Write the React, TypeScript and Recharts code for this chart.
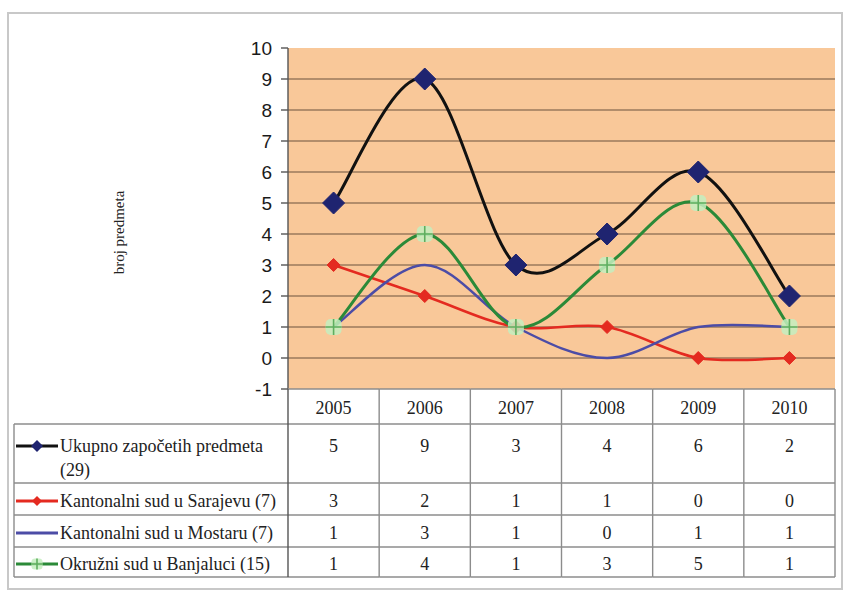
import React from 'react';
import { LineChart, Line, XAxis, YAxis, CartesianGrid, Label } from 'recharts';

const years = ['2005', '2006', '2007', '2008', '2009', '2010'];
const ukupno = [5, 9, 3, 4, 6, 2];
const sarajevo = [3, 2, 1, 1, 0, 0];
const mostar = [1, 3, 1, 0, 1, 1];
const banjaluka = [1, 4, 1, 3, 5, 1];
const yTicks = [-1, 0, 1, 2, 3, 4, 5, 6, 7, 8, 9, 10];
const gridValues = [0, 1, 2, 3, 4, 5, 6, 7, 8, 9];
const seriesNames = [
  ['Ukupno započetih predmeta', '(29)'],
  ['Kantonalni sud u Sarajevu (7)'],
  ['Kantonalni sud u Mostaru (7)'],
  ['Okružni sud u Banjaluci (15)'],
];
const yLabel = 'broj predmeta';

const data = years.map((y, i) => ({
  year: y,
  ukupno: ukupno[i],
  sarajevo: sarajevo[i],
  mostar: mostar[i],
  banjaluka: banjaluka[i],
}));

const W = 851;
const H = 598;
const M = { top: 48, right: 16, bottom: 9, left: 0 };
const Y_AXIS_W = 288;
const X_AXIS_H = 200;
const PLOT_W = W - M.left - M.right - Y_AXIS_W;
const COL_W = PLOT_W / years.length;
const LEGEND_LEFT = 14;

const C_BLACK = '#111111';
const C_NAVY = '#1f2470';
const C_RED = '#e42a20';
const C_BLUE = '#4c4ca6';
const C_GREEN = '#2b8a38';
const C_GRID = '#9a7a5c';
const C_TABLE = '#8c8c8c';
const SERIF = '"Liberation Serif", "Times New Roman", serif';
const SANS = '"Liberation Sans", Arial, sans-serif';

// Excel-like smoothed line (Catmull-Rom through the points)
const excelCurve: any = (context: any) => {
  let pts: number[][] = [];
  return {
    areaStart() {},
    areaEnd() {},
    lineStart() {
      pts = [];
    },
    point(x: number, y: number) {
      pts.push([+x, +y]);
    },
    lineEnd() {
      if (!pts.length) return;
      context.moveTo(pts[0][0], pts[0][1]);
      for (let i = 0; i < pts.length - 1; i++) {
        const p0 = pts[i - 1] || pts[i];
        const p1 = pts[i];
        const p2 = pts[i + 1];
        const p3 = pts[i + 2] || p2;
        context.bezierCurveTo(
          p1[0] + (p2[0] - p0[0]) / 6,
          p1[1] + (p2[1] - p0[1]) / 6,
          p2[0] - (p3[0] - p1[0]) / 6,
          p2[1] - (p3[1] - p1[1]) / 6,
          p2[0],
          p2[1]
        );
      }
    },
  };
};

const diamondPath = (cx: number, cy: number, r: number) =>
  `M${cx},${cy - r}L${cx + r},${cy}L${cx},${cy + r}L${cx - r},${cy}Z`;

const NavyMarker = ({ cx, cy }: { cx: number; cy: number }) => (
  <path d={diamondPath(cx, cy, 11)} fill={C_NAVY} stroke={C_NAVY} strokeWidth={1} />
);
const RedMarker = ({ cx, cy }: { cx: number; cy: number }) => (
  <path d={diamondPath(cx, cy, 6.5)} fill={C_RED} stroke={C_RED} strokeWidth={1} />
);
const GreenMarker = ({ cx, cy, s = 1 }: { cx: number; cy: number; s?: number }) => (
  <g>
    <rect x={cx - 8 * s} y={cy - 8 * s} width={16 * s} height={16 * s} rx={5 * s} fill="#c4eec0" opacity={0.85} />
    <path d={`M${cx - 8 * s},${cy}H${cx + 8 * s}M${cx},${cy - 8 * s}V${cy + 8 * s}`} stroke="#5fae5f" strokeWidth={1.6} />
  </g>
);

const dotNavy = (p: any) => <NavyMarker key={`n-${p.index}`} cx={p.cx} cy={p.cy} />;
const dotRed = (p: any) => <RedMarker key={`r-${p.index}`} cx={p.cx} cy={p.cy} />;
const dotGreen = (p: any) => <GreenMarker key={`g-${p.index}`} cx={p.cx} cy={p.cy} />;

// table row boundaries relative to plot bottom
const ROW_LINES = [0, 35, 94, 126, 158, 188];
const YEAR_Y = 19;
const ROW_TEXT_Y = [57, 112, 144, 175];
const rows = [ukupno, sarajevo, mostar, banjaluka];

const LegendIcon = ({ kind, x, y }: { kind: number; x: number; y: number }) => {
  const x1 = x;
  const x2 = x + 42;
  const mx = (x1 + x2) / 2;
  const colors = [C_BLACK, C_RED, C_BLUE, C_GREEN];
  return (
    <g>
      <line x1={x1} y1={y} x2={x2} y2={y} stroke={colors[kind]} strokeWidth={3} />
      {kind === 0 && <path d={diamondPath(mx, y, 6)} fill={C_NAVY} />}
      {kind === 1 && <path d={diamondPath(mx, y, 5)} fill={C_RED} />}
      {kind === 3 && <GreenMarker cx={mx} cy={y} s={0.7} />}
    </g>
  );
};

const TableTick = (props: any) => {
  const { x, y, index, payload } = props;
  const left = x - COL_W / 2;
  const right = x + COL_W / 2;
  const isFirst = index === 0;
  const isLast = index === years.length - 1;
  const bottom = y + ROW_LINES[ROW_LINES.length - 1];
  return (
    <g>
      {ROW_LINES.map((r, k) => (
        <line
          key={`h${k}`}
          x1={isFirst && k > 0 ? LEGEND_LEFT : left}
          x2={right}
          y1={y + r}
          y2={y + r}
          stroke={C_TABLE}
          strokeWidth={1.4}
        />
      ))}
      <line x1={left} x2={left} y1={y} y2={bottom} stroke={isFirst ? '#555' : C_TABLE} strokeWidth={1.4} />
      {isLast && <line x1={right} x2={right} y1={y} y2={bottom} stroke={C_TABLE} strokeWidth={1.4} />}
      {isFirst && (
        <line x1={LEGEND_LEFT} x2={LEGEND_LEFT} y1={y + ROW_LINES[1]} y2={bottom} stroke={C_TABLE} strokeWidth={1.4} />
      )}
      <text x={x} y={y + YEAR_Y} textAnchor="middle" dominantBaseline="central" fontFamily={SERIF} fontSize={18} fill="#222">
        {payload.value}
      </text>
      {rows.map((r, k) => (
        <text
          key={`v${k}`}
          x={x}
          y={y + ROW_TEXT_Y[k]}
          textAnchor="middle"
          dominantBaseline="central"
          fontFamily={SERIF}
          fontSize={18}
          fill="#222"
        >
          {r[index]}
        </text>
      ))}
      {isFirst &&
        seriesNames.map((lines, k) => (
          <g key={`l${k}`}>
            <LegendIcon kind={k} x={LEGEND_LEFT + 2} y={y + ROW_TEXT_Y[k]} />
            {lines.map((t, j) => (
              <text
                key={j}
                x={LEGEND_LEFT + 46}
                y={y + ROW_TEXT_Y[k] + j * 24}
                dominantBaseline="central"
                fontFamily={SERIF}
                fontSize={18}
                fill="#222"
              >
                {t}
              </text>
            ))}
          </g>
        ))}
    </g>
  );
};

const YLabelContent = (props: any) => {
  const vb = props.viewBox || { x: 0, y: M.top, width: Y_AXIS_W, height: 341 };
  const lx = vb.x + 119;
  const ly = vb.y + vb.height / 2 + 14;
  return (
    <text
      x={lx}
      y={ly}
      transform={`rotate(-90, ${lx}, ${ly})`}
      textAnchor="middle"
      dominantBaseline="central"
      fontFamily={SERIF}
      fontSize={15}
      fill="#222"
    >
      {yLabel}
    </text>
  );
};

export default function App() {
  return (
    <div style={{ position: 'absolute', left: 0, top: 0, width: W, height: H, background: '#ffffff' }}>
      <div
        style={{
          position: 'absolute',
          left: 7,
          top: 12,
          width: 836,
          height: 578,
          border: '2px solid #c8c8c8',
          boxSizing: 'border-box',
        }}
      />
      <div style={{ position: 'absolute', left: 0, top: 0 }}>
        <LineChart width={W} height={H} data={data} margin={M}>
          <CartesianGrid
            vertical={false}
            horizontalValues={gridValues}
            fill="#f9c899"
            fillOpacity={1}
            stroke={C_GRID}
            strokeWidth={1.5}
          />
          <XAxis
            dataKey="year"
            height={X_AXIS_H}
            axisLine={false}
            tickLine={false}
            tickSize={0}
            tickMargin={0}
            interval={0}
            padding={{ left: COL_W / 2, right: COL_W / 2 }}
            tick={<TableTick />}
          />
          <YAxis
            type="number"
            domain={[-1, 10]}
            ticks={yTicks}
            interval={0}
            width={Y_AXIS_W}
            axisLine={{ stroke: '#555', strokeWidth: 1.4 }}
            tickLine={{ stroke: '#555', strokeWidth: 1.4 }}
            tickSize={7}
            tickMargin={9}
            tick={{ fontFamily: SANS, fontSize: 19, fill: '#1a1a1a' }}
          >
            <Label content={<YLabelContent />} />
          </YAxis>
          <Line
            dataKey="ukupno"
            type={excelCurve}
            stroke={C_BLACK}
            strokeWidth={3}
            dot={dotNavy}
            activeDot={false}
            isAnimationActive={false}
          />
          <Line
            dataKey="sarajevo"
            type={excelCurve}
            stroke={C_RED}
            strokeWidth={2.5}
            dot={dotRed}
            activeDot={false}
            isAnimationActive={false}
          />
          <Line
            dataKey="mostar"
            type={excelCurve}
            stroke={C_BLUE}
            strokeWidth={2.5}
            dot={false}
            activeDot={false}
            isAnimationActive={false}
          />
          <Line
            dataKey="banjaluka"
            type={excelCurve}
            stroke={C_GREEN}
            strokeWidth={3}
            dot={dotGreen}
            activeDot={false}
            isAnimationActive={false}
          />
        </LineChart>
      </div>
    </div>
  );
}
